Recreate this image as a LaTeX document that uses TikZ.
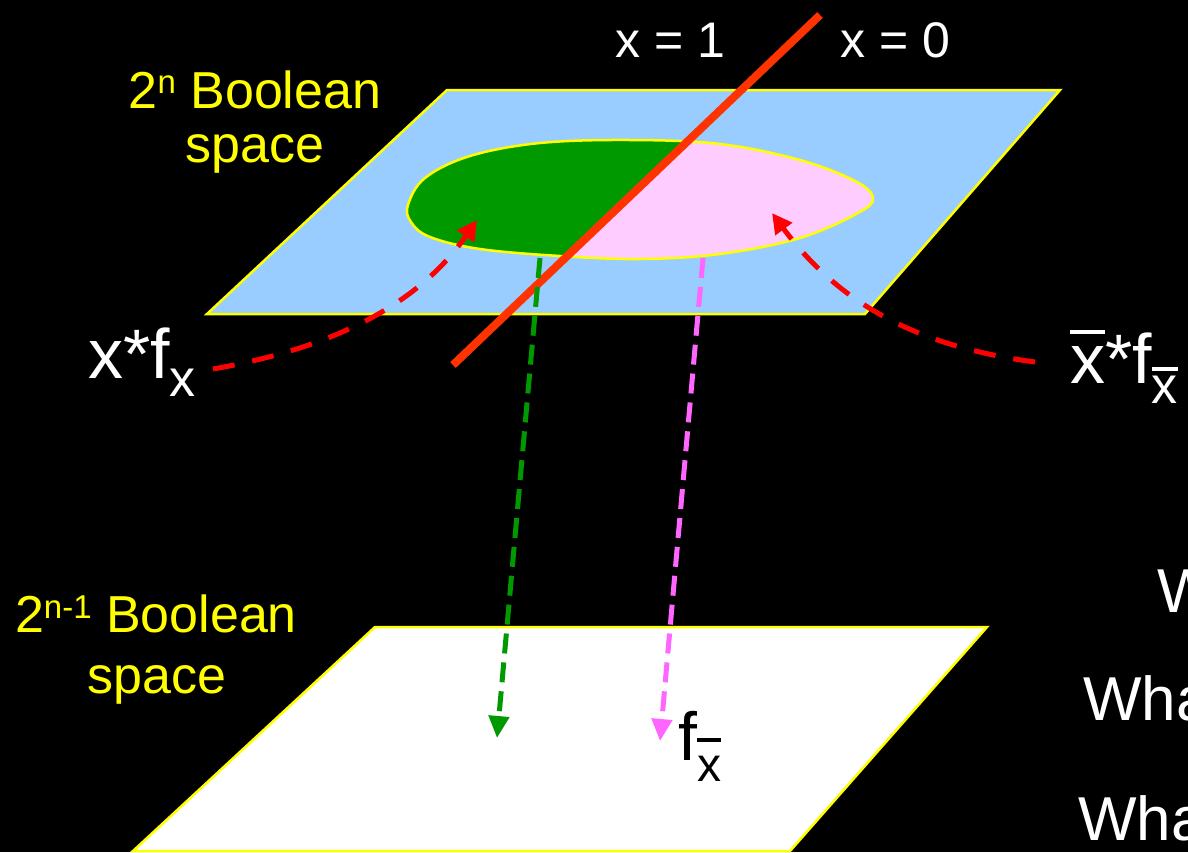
\documentclass[tikz,border=0pt]{standalone}
\usepackage{fontspec}
\setmainfont{Liberation Sans}
\usepackage{tikz}
\usetikzlibrary{arrows.meta}
\definecolor{planeblue}{RGB}{153,204,255}
\definecolor{blobgreen}{RGB}{0,153,0}
\definecolor{blobpink}{RGB}{255,204,255}
\definecolor{projpink}{RGB}{255,102,255}
\definecolor{cutred}{RGB}{255,51,0}
\definecolor{labelyellow}{RGB}{255,255,0}

% x with a bar over it, #1 = gap between bar and letter
\newcommand{\barx}[1]{\leavevmode\vbox{\hrule height 4pt\kern #1\hbox{x}}}
% lowered / raised small text
\newcommand{\lowx}[3]{\raisebox{-#1}{\fontsize{#2}{#2}\selectfont #3}}
\newcommand{\highx}[3]{\raisebox{#1}{\fontsize{#2}{#2}\selectfont #3}}

\begin{document}
\begin{tikzpicture}[
			x=1pt, y=-1pt,
			plane/.style={draw=labelyellow, line width=2.5pt, line join=miter},
			lbl/.style={inner sep=0pt, anchor=base west, text=white},
			ylbl/.style={inner sep=0pt, anchor=base, text=labelyellow,
					font=\fontsize{52}{52}\selectfont},
			gproj/.style={blobgreen, line width=5pt, dash pattern=on 20pt off 9pt,
					-{Triangle[length=22pt, width=20pt]}},
			pproj/.style={projpink, line width=5pt, dash pattern=on 20pt off 9pt,
					-{Triangle[length=22pt, width=20pt]}},
			rproj/.style={red, line width=5pt, dash pattern=on 22pt off 18pt,
					-{Triangle[length=20pt, width=20pt]}}
		]
		\useasboundingbox (0,0) rectangle (1188,852);
		\fill[black] (0,0) rectangle (1188,852);

		% upper plane and the function region on it
		\draw[plane, fill=planeblue] (447,90) -- (1060,90) -- (865,314) -- (207,314) -- cycle;
		\def\blobpath{plot[smooth cycle, tension=0.6] coordinates {
				(408,205) (425,178) (470,156) (540,143) (630,140) (720,144) (800,160)
				(855,181) (873,198) (858,213) (800,238) (720,254) (640,259) (560,256)
				(480,249) (430,237) (411,222)}}
		\fill[blobpink] \blobpath;
		\begin{scope}
			\clip (820,15) -- (453,365) -- (300,365) -- (300,15) -- cycle;
			\fill[blobgreen] \blobpath;
		\end{scope}
		\draw[labelyellow, line width=2.5pt] \blobpath;

		% lower plane
		\draw[plane, fill=white] (375,627) -- (987,627) -- (790,851) -- (133,851) -- cycle;

		% cut line x = 1 / x = 0
		\coordinate (cutTop) at (820,15);
		\coordinate (cutBot) at (453,365);
		\draw[cutred, line width=8pt] (cutTop) -- (cutBot);

		\node[lbl, font=\fontsize{50}{50}\selectfont] (xone) at (615,57) {x = 1};
		\node[lbl, font=\fontsize{50}{50}\selectfont] (xzero) at (840,57) {x = 0};

		% labels of the spaces
		\node[ylbl] (topA) at (255,108) {2\highx{15pt}{33}{n} Boolean};
		\node[ylbl] (topB) at (255,162) {space};
		\node[ylbl] (botA) at (156,632) {2\highx{14pt}{33}{n-1} Boolean};
		\node[ylbl] (botB) at (157,693) {space};

		% cofactor terms
		\node[lbl, font=\fontsize{70}{70}\selectfont] (xfx) at (88,378) {x*f\lowx{18pt}{52}{x}};
		\node[lbl, font=\fontsize{70}{70}\selectfont] (xbfxb) at (1070,383)
			{\barx{12pt}*f\lowx{20pt}{52}{\barx{5pt}}};
		\node[lbl, text=black, font=\fontsize{68}{68}\selectfont] (fxb) at (678,760)
			{f\lowx{21pt}{48}{\barx{14pt}}};

		% questions at the right edge
		\node[lbl, font=\fontsize{62}{62}\selectfont] (qa) at (1157,612) {W};
		\node[lbl, font=\fontsize{62}{62}\selectfont] (qb) at (1083,720) {Wha};
		\node[lbl, font=\fontsize{62}{62}\selectfont] (qc) at (1078,840) {Wha};

		% red arrows from the terms to the halves
		\coordinate (lStart) at (213,369);
		\coordinate (lEnd) at (477,220);
		\coordinate (rStart) at (1035,362);
		\coordinate (rEnd) at (772,213);
		\draw[rproj] (lStart) .. controls (350,345) and (425,295) .. (lEnd);
		\draw[rproj] (rStart) .. controls (930,348) and (845,312) .. (rEnd);

		% projections to the lower space
		\coordinate (gStart) at (540,258);
		\coordinate (gEnd) at (497,738);
		\coordinate (pStart) at (703,258);
		\coordinate (pEnd) at (660,741);
		\draw[gproj] (gStart) -- (gEnd);
		\draw[pproj] (pStart) -- (pEnd);
	\end{tikzpicture}
\end{document}
